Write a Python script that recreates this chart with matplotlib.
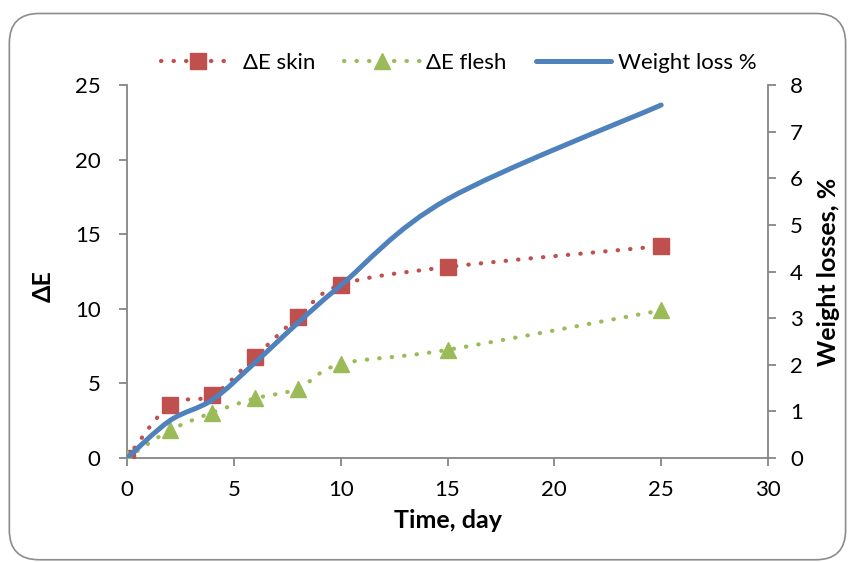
import numpy as np
import matplotlib
matplotlib.use("Agg")
import matplotlib.pyplot as plt
from matplotlib.path import Path
from matplotlib.patches import PathPatch, FancyBboxPatch
from matplotlib.lines import Line2D

# Dados
dias = [0, 2, 4, 6, 8, 10, 15, 25]
de_skin = [0, 3.55, 4.2, 6.8, 9.45, 11.6, 12.8, 14.2]
de_flesh = [0, 1.85, 3.05, 4.0, 4.65, 6.3, 7.25, 9.9]
perda_peso = [0, 0.8, 1.25, 2.05, 2.9, 3.7, 5.55, 7.57]

cor_skin = '#C0504D'
cor_flesh = '#9BBB59'
cor_peso = '#4F81BD'
cor_eixo = '#868686'

plt.rcParams['font.family'] = ['Lato', 'DejaVu Sans']


def curva_suave(x, y):
    # linha suavizada (estilo Excel) com curvas de Bezier entre os pontos
    p = np.column_stack([x, y]).astype(float)
    n = len(p)
    verts = [p[0]]
    codes = [Path.MOVETO]
    for i in range(n - 1):
        p0 = p[i - 1] if i > 0 else p[i]
        p1, p2 = p[i], p[i + 1]
        p3 = p[i + 2] if i + 2 < n else p[i + 1]
        verts += [p1 + (p2 - p0) / 6, p2 - (p3 - p1) / 6, p2]
        codes += [Path.CURVE4] * 3
    return Path(verts, codes)


fig = plt.figure(figsize=(8.49, 5.62), dpi=100)
ax = fig.add_axes([0.1496, 0.185, 0.7550, 0.6638])
ax2 = ax.twinx()

pontilhado = (0, (0.1, 2.9))
lw_pont = 3.0

ax.add_patch(PathPatch(curva_suave(dias, de_skin), fill=False, edgecolor=cor_skin,
                       lw=lw_pont, linestyle=pontilhado, capstyle='round', zorder=2))
ax.add_patch(PathPatch(curva_suave(dias, de_flesh), fill=False, edgecolor=cor_flesh,
                       lw=lw_pont, linestyle=pontilhado, capstyle='round', zorder=2))
ax.plot(dias, de_skin, linestyle='none', marker='s', ms=11, color=cor_skin, zorder=3)
ax.plot(dias, de_flesh, linestyle='none', marker='^', ms=12, color=cor_flesh, zorder=3)

ax2.add_patch(PathPatch(curva_suave(dias, perda_peso), fill=False, edgecolor=cor_peso,
                        lw=3.6, capstyle='round', zorder=4))

ax.set_xlim(0, 30)
ax.set_ylim(0, 25)
ax2.set_ylim(0, 8)
ax.set_xticks(range(0, 31, 5))
ax.set_yticks(range(0, 26, 5))
ax2.set_yticks(range(0, 9))

for a in (ax, ax2):
    a.spines['top'].set_visible(False)
    for s in ('left', 'right', 'bottom'):
        a.spines[s].set_color(cor_eixo)
        a.spines[s].set_linewidth(1.3)
    a.tick_params(colors=cor_eixo, labelcolor='black', labelsize=16,
                  length=6, width=1.3, direction='out')
ax.spines['right'].set_visible(False)
ax2.spines['left'].set_visible(False)
ax2.spines['bottom'].set_visible(False)
ax.tick_params(axis='y', pad=13)
ax2.tick_params(axis='y', pad=10)
ax.tick_params(axis='x', pad=10)

ax.set_xlabel('Time, day', fontsize=18, fontweight='bold', labelpad=6)
ax.set_ylabel('ΔE', fontsize=18, fontweight='bold', labelpad=8)
ax.yaxis.set_label_coords(-0.112, 0.46)
ax2.set_ylabel('Weight losses, %', fontsize=18, fontweight='bold', labelpad=10)

# legenda
h_skin = Line2D([], [], color=cor_skin, lw=lw_pont, linestyle=pontilhado,
                dash_capstyle='round', marker='s', ms=11)
h_flesh = Line2D([], [], color=cor_flesh, lw=lw_pont, linestyle=pontilhado,
                 dash_capstyle='round', marker='^', ms=12)
h_peso = Line2D([], [], color=cor_peso, lw=3.6, solid_capstyle='round')
fig.legend([h_skin, h_flesh, h_peso], ['ΔE skin', 'ΔE flesh', 'Weight loss %'],
           loc='center', bbox_to_anchor=(0.54, 0.888), ncol=3, frameon=False,
           fontsize=16, handlelength=3.4, columnspacing=1.3, handletextpad=0.3)

# moldura arredondada da área do gráfico
moldura = FancyBboxPatch((0.011, 0.004), 0.985, 0.972,
                         boxstyle='round,pad=0,rounding_size=0.035',
                         transform=fig.transFigure, fill=False,
                         edgecolor='#8C8C8C', lw=1.2, mutation_aspect=849 / 562)
fig.patches.append(moldura)

fig.savefig('out.png', dpi=100)
